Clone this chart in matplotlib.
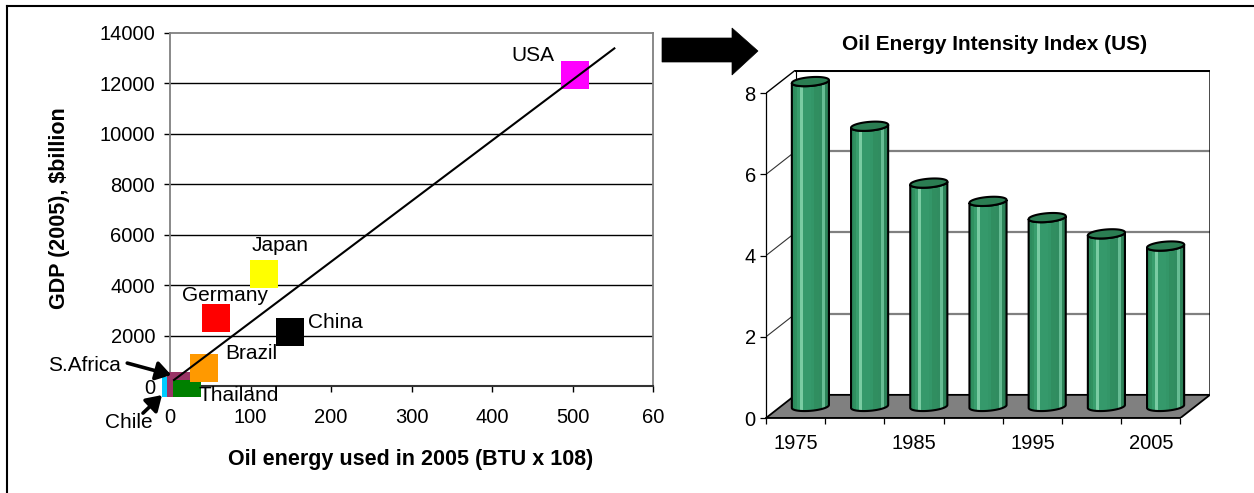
import numpy as np
import matplotlib
matplotlib.use("Agg")
import matplotlib.pyplot as plt
from matplotlib.patches import Polygon, Rectangle
from matplotlib.transforms import offset_copy
from matplotlib.lines import Line2D

plt.rcParams['font.family'] = ['Liberation Sans', 'DejaVu Sans']

# ---------------- data ----------------
countries = ["Chile", "S.Africa", "Thailand", "Brazil", "Germany", "Japan", "China", "USA"]
oil_use = [7.5, 14, 21, 42, 57, 117, 149, 503]          # BTU x 10^8
gdp = [-200, 0, -320, 710, 2700, 4450, 2150, 12350]     # $billion
country_colors = ["#00CCFF", "#993366", "#008000", "#FF9900",
                  "#FF0000", "#FFFF00", "#000000", "#FF00FF"]

trend_x = [5, 552]
trend_y = [240, 13390]

x_ticks = [0, 100, 200, 300, 400, 500, 600]
x_tick_labels = ["0", "100", "200", "300", "400", "500", "60"]
y_ticks = [0, 2000, 4000, 6000, 8000, 10000, 12000, 14000]

years = [1975, 1980, 1985, 1990, 1995, 2000, 2005]
intensity = [8.0, 6.9, 5.5, 5.05, 4.65, 4.25, 3.95]
intensity_ticks = [0, 2, 4, 6, 8]

# ---------------- figure ----------------
W, H = 1254, 493
fig = plt.figure(figsize=(W / 100, H / 100), dpi=100)
fig.patch.set_facecolor("white")


def fx(px):
    return px / W


def fy(py):
    return 1 - py / H


# outer frame (top and left edges)
fig.add_artist(Line2D([fx(7), fx(W)], [fy(5.5), fy(5.5)], color="black", lw=1.5))
fig.add_artist(Line2D([fx(7), fx(7)], [fy(5.5), fy(H)], color="black", lw=1.5))

# ---------------- scatter chart ----------------
ax1 = fig.add_axes([fx(170), fy(386), (653 - 170) / W, (386 - 33) / H])
ax1.set_xlim(0, 600)
ax1.set_ylim(0, 14000)
for side in ("left", "top", "right"):
    ax1.spines[side].set_color("#808080")
    ax1.spines[side].set_linewidth(1.3)
ax1.spines["bottom"].set_color("#333333")
ax1.spines["bottom"].set_linewidth(1.5)
ax1.set_xticks(x_ticks)
ax1.set_xticklabels(x_tick_labels)
ax1.set_yticks(y_ticks)
ax1.tick_params(axis="x", direction="out", length=4.3, width=1, pad=11.5,
                labelsize=14.5, colors="black")
ax1.tick_params(axis="y", direction="out", length=4.3, width=1, pad=6.5,
                labelsize=14.5, colors="black")
for v in y_ticks[1:-1]:
    ax1.axhline(v, color="black", lw=1, zorder=1)

clip_rect = Rectangle((-100, -435), 900, 20000, transform=ax1.transData)
sc = ax1.scatter(oil_use, gdp, s=20.2 ** 2, marker="s", c=country_colors,
                 linewidths=0, zorder=3, clip_on=True)
sc.set_clip_path(clip_rect)

ax1.plot(trend_x, trend_y, color="black", lw=1.5, zorder=4, clip_on=False)

# country labels: offsets (points) from each square's centre
label_offsets = {
    "USA": (-30, 14), "Japan": (11.5, 20.5), "Germany": (6.5, 16.5),
    "China": (32.5, 6.5), "Brazil": (34.5, 10.5), "Thailand": (37.5, -1),
    "S.Africa": (-70, 15), "Chile": (-34, -22.5),
}
for name, xv, yv in zip(countries, oil_use, gdp):
    dx, dy = label_offsets[name]
    ax1.annotate(name, (xv, yv), xytext=(dx, dy), textcoords="offset points",
                 ha="center", va="center", fontsize=15, zorder=5,
                 annotation_clip=False)

# pointer arrows for the two smallest economies
pointer_geom = {
    "S.Africa": ((-7.2, 7.9), (-31.7, 8.6)),
    "Chile": ((-10.1, -2.9), (-13.7, -13.0)),
}
for name, (tip_off, tail_off) in pointer_geom.items():
    i = countries.index(name)
    tip_tr = offset_copy(ax1.transData, fig=fig, x=tip_off[0], y=tip_off[1], units="points")
    ax1.annotate("", xy=(oil_use[i], gdp[i]), xycoords=tip_tr,
                 xytext=tail_off, textcoords="offset points",
                 arrowprops=dict(arrowstyle="-|>,head_length=0.6,head_width=0.38",
                                 mutation_scale=15, lw=2.6, color="black",
                                 shrinkA=0, shrinkB=0),
                 annotation_clip=False, zorder=6)

fig.text(fx(59), fy(208), "GDP (2005), $billion", rotation=90, ha="center",
         va="center", fontsize=15.5, fontweight="bold")
fig.text(fx(411), fy(465), "Oil energy used in 2005 (BTU x 108)", ha="center",
         va="baseline", fontsize=15.5, fontweight="bold")

# ---------------- block arrow between the charts ----------------
arrow_pts = [(662, 38), (732, 38), (732, 28), (758, 51), (732, 75), (732, 62), (662, 62)]
fig.add_artist(Polygon([(fx(x), fy(y)) for x, y in arrow_pts], closed=True,
                       facecolor="black", edgecolor="black", lw=0.5))

# ---------------- 3-D style cylinder chart ----------------
DX, DY = 0.5, 0.57        # depth offset in data units
top_val = 8.0
ax2 = fig.add_axes([fx(766), fy(418), (1210 - 766) / W, (418 - 70) / H])
n = len(years)
x_lo, x_hi = -0.5, n - 0.5

# back wall
for v in intensity_ticks[1:-1]:
    ax2.plot([x_lo + DX, x_hi + DX], [v + DY, v + DY], color="#808080", lw=1.6, zorder=1)
    ax2.plot([x_lo, x_lo + DX], [v, v + DY], color="#333333", lw=0.8, zorder=1)
ax2.plot([x_lo, x_lo + DX, x_hi + DX, x_hi + DX], [top_val, top_val + DY, top_val + DY, DY],
         color="black", lw=1.0, zorder=1)
ax2.plot([x_lo + DX, x_hi + DX], [top_val + DY, top_val + DY], color="black", lw=2.2, zorder=1)
ax2.plot([x_lo + DX, x_lo + DX], [DY, top_val + DY], color="black", lw=0.8, zorder=1)

# floor
floor = Polygon([(x_lo, 0), (x_hi, 0), (x_hi + DX, DY), (x_lo + DX, DY)], closed=True,
                facecolor="#808080", edgecolor="black", lw=1.3, zorder=2)
ax2.add_patch(floor)

# cylinder shading across the width
shade = np.array([
    [0.18, 0.55, 0.37], [0.19, 0.57, 0.38], [0.22, 0.62, 0.43], [0.48, 0.80, 0.64],
    [0.21, 0.60, 0.42], [0.21, 0.60, 0.42], [0.21, 0.60, 0.42], [0.20, 0.59, 0.41],
    [0.19, 0.56, 0.38], [0.19, 0.56, 0.38], [0.19, 0.55, 0.38], [0.40, 0.74, 0.58],
    [0.18, 0.52, 0.35], [0.17, 0.50, 0.34],
])
shade_img = shade[np.newaxis, :, :]

r, s = 0.297, 0.2
t1 = np.arctan2(s * DX, r)
t_front = np.linspace(t1 + np.pi, t1 + 2 * np.pi, 80)
t_all = np.linspace(0, 2 * np.pi, 120)
for i, val in enumerate(intensity):
    xc = i + DX / 2
    yb = DY / 2
    yt = yb + val
    ex = r * np.cos(t_front) + s * DX * np.sin(t_front)
    ey = s * DY * np.sin(t_front)
    body = np.concatenate([np.column_stack([xc + ex, yb + ey]),
                           np.column_stack([xc + ex[::-1], yt + ey[::-1]])])
    body_patch = Polygon(body, closed=True, facecolor="none", edgecolor="black",
                         lw=1.5, zorder=4 + i * 0.1)
    half_w = np.hypot(r, s * DX)
    im = ax2.imshow(shade_img, extent=(xc - half_w, xc + half_w, yb - DY, yt + DY),
                    aspect="auto", interpolation="nearest", zorder=3.9 + i * 0.1)
    ax2.add_patch(body_patch)
    im.set_clip_path(body_patch)
    tx = xc + r * np.cos(t_all) + s * DX * np.sin(t_all)
    ty = yt + s * DY * np.sin(t_all)
    ax2.add_patch(Polygon(np.column_stack([tx, ty]), closed=True, facecolor="#2B7D52",
                          edgecolor="black", lw=1.5, zorder=4.05 + i * 0.1))

ax2.set_xlim(x_lo, x_hi + DX)
ax2.set_ylim(0, top_val + DY)
ax2.patch.set_alpha(0)
for side in ("top", "right"):
    ax2.spines[side].set_visible(False)
ax2.spines["left"].set_bounds(0, top_val)
ax2.spines["left"].set_linewidth(0.9)
ax2.spines["bottom"].set_bounds(x_lo, x_hi)
ax2.spines["bottom"].set_linewidth(1.3)
ax2.set_yticks(intensity_ticks)
ax2.tick_params(axis="y", direction="out", length=4.3, width=0.9, pad=3,
                labelsize=14.5)
ax2.set_xticks(np.arange(n + 1) - 0.5)
ax2.set_xticklabels([])
ax2.set_xticks(np.arange(0, n, 2), minor=True)
ax2.set_xticklabels([str(y) for y in years[::2]], minor=True)
ax2.tick_params(axis="x", which="major", direction="out", length=4.3, width=0.9)
ax2.tick_params(axis="x", which="minor", length=0, pad=11.5, labelsize=14.5)

fig.text(fx(995), fy(50), "Oil Energy Intensity Index (US)", ha="center",
         va="baseline", fontsize=15, fontweight="bold")

fig.savefig("out.png", dpi=100)
